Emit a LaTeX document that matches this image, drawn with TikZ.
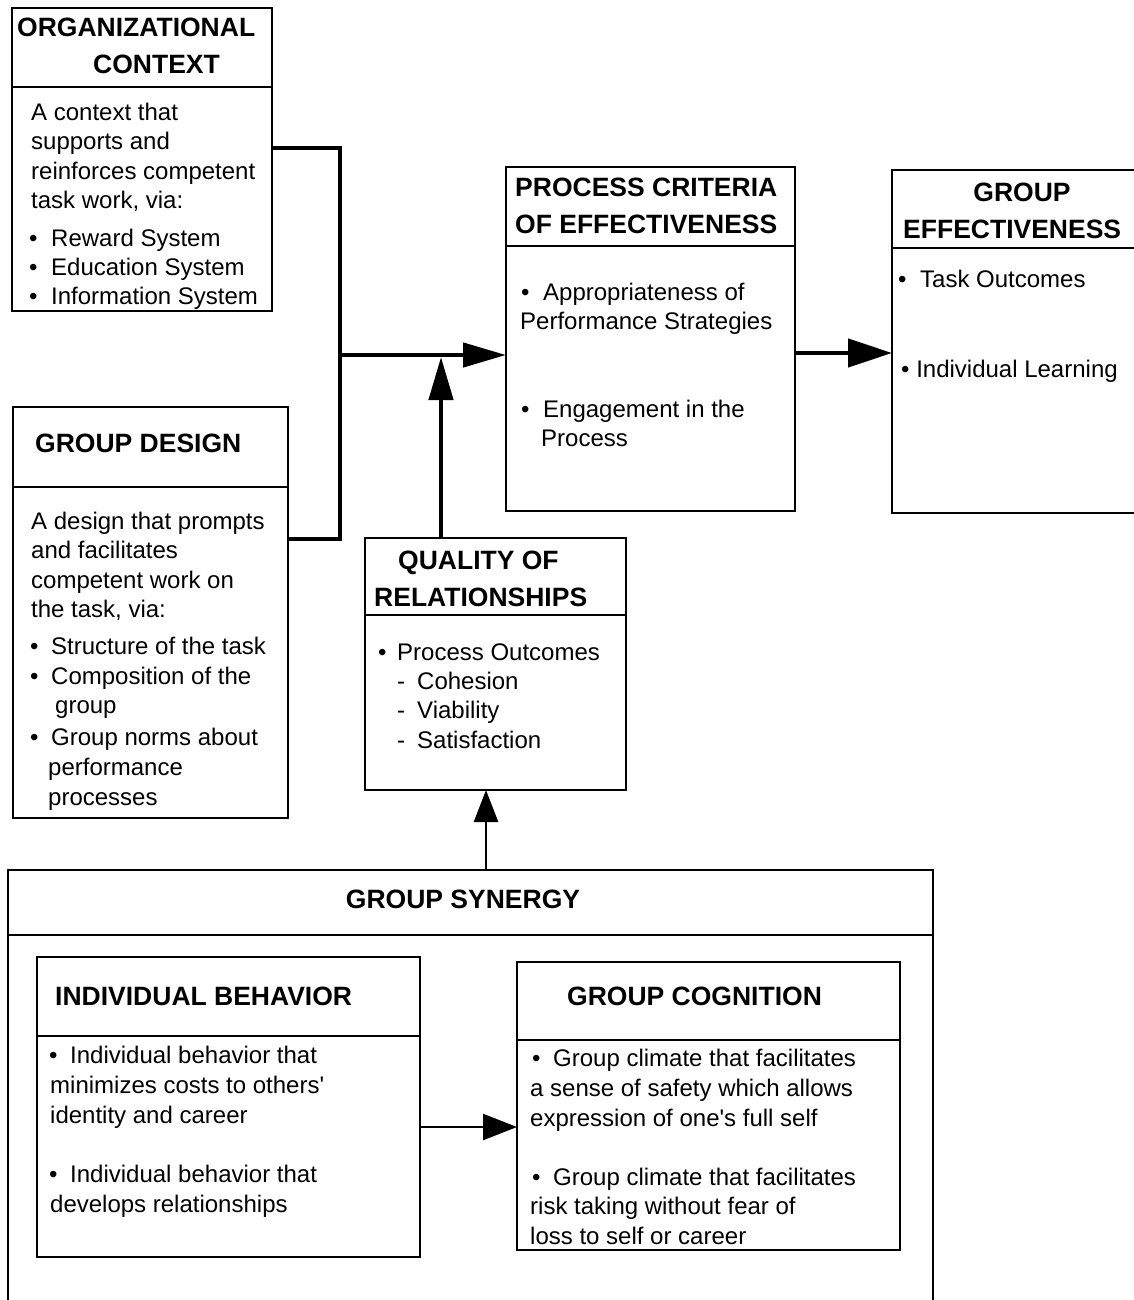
\documentclass[tikz,border=0pt]{standalone}
\usepackage{fontspec}
\setmainfont{Liberation Sans}[Ligatures=TeXOff]
\usetikzlibrary{arrows.meta}
\newcommand\bul[1]{\makebox[#1][l]{•}}
\begin{document}
\begin{tikzpicture}[x=1pt,y=-1pt,
  box/.style={draw,line width=2pt,rectangle,inner sep=0pt,outer sep=0pt,anchor=north west},
  hd/.style={font=\fontsize{26.5}{32}\selectfont\bfseries,anchor=base west,inner sep=0pt},
  tx/.style={font=\fontsize{24}{29}\selectfont,anchor=base west,inner sep=0pt},
  sep/.style={line width=2pt},
  fat/.style={line width=4.5pt},
  slim/.style={line width=2.5pt},
  bigtip/.style={-{Triangle[length=43pt,width=24pt]}},
  smalltip/.style={-{Triangle[length=34pt,width=26pt]}},
]
\useasboundingbox (0,0) rectangle (1134,1300);
\clip (0,0) rectangle (1134,1300);
\fill[white] (0,0) rectangle (1134,1300);

% ---------- boxes ----------
\node[box,minimum width=260pt,minimum height=303pt] (org) at (12,8) {};
\node[box,minimum width=275pt,minimum height=411pt] (gd) at (13,407) {};
\node[box,minimum width=289pt,minimum height=344pt] (pce) at (506,167) {};
\node[box,minimum width=270pt,minimum height=343pt] (ge) at (892,170) {};
\node[box,minimum width=261pt,minimum height=252pt] (qor) at (365,538) {};
\node[box,minimum width=925pt,minimum height=460pt] (syn) at (8,870) {};
\node[box,minimum width=383pt,minimum height=300pt] (ib) at (37,957) {};
\node[box,minimum width=383pt,minimum height=288pt] (gc) at (517,962) {};

% ---------- header separators ----------
\draw[sep] (org.west |- 0,87) -- (org.east |- 0,87);
\draw[sep] (gd.west |- 0,487) -- (gd.east |- 0,487);
\draw[sep] (pce.west |- 0,246) -- (pce.east |- 0,246);
\draw[sep] (ge.west |- 0,248) -- (ge.east |- 0,248);
\draw[sep] (qor.west |- 0,615) -- (qor.east |- 0,615);
\draw[sep] (syn.west |- 0,935) -- (syn.east |- 0,935);
\draw[sep] (ib.west |- 0,1036) -- (ib.east |- 0,1036);
\draw[sep] (gc.west |- 0,1040) -- (gc.east |- 0,1040);

% ---------- organizational context ----------
\node[hd] (orgh1) at (17,36.5) {ORGANIZATIONAL};
\node[hd] (orgh2) at (93,73.5) {CONTEXT};
\node[tx] (orgt1) at (31,121) {A context that};
\node[tx] (orgt2) at (31,150) {supports and};
\node[tx] (orgt3) at (31,179) {reinforces competent};
\node[tx] (orgt4) at (31,208) {task work, via:};
\node[tx] (orgb1) at (29,246) {\bul{22pt}Reward System};
\node[tx] (orgb2) at (29,275.5) {\bul{22pt}Education System};
\node[tx] (orgb3) at (29,304.5) {\bul{22pt}Information System};

% ---------- group design ----------
\node[hd] (gdh) at (35,452.5) {GROUP DESIGN};
\node[tx] (gdt1) at (31,529) {A design that prompts};
\node[tx] (gdt2) at (31,558) {and facilitates};
\node[tx] (gdt3) at (31,588) {competent work on};
\node[tx] (gdt4) at (31,617) {the task, via:};
\node[tx] (gdb1) at (30,654) {\bul{21pt}Structure of the task};
\node[tx] (gdb2) at (30,684) {\bul{21pt}Composition of the};
\node[tx] (gdb2b) at (55,713) {group};
\node[tx] (gdb3) at (30,745) {\bul{21pt}Group norms about};
\node[tx] (gdb3b) at (48,775) {performance};
\node[tx] (gdb3c) at (48,805) {processes};

% ---------- process criteria ----------
\node[hd] (pceh1) at (515,196.5) {PROCESS CRITERIA};
\node[hd] (pceh2) at (515,233.5) {OF EFFECTIVENESS};
\node[tx] (pcet1) at (521,300) {\bul{22pt}Appropriateness of};
\node[tx] (pcet2) at (520,329) {Performance Strategies};
\node[tx] (pcet3) at (521,417) {\bul{22pt}Engagement in the};
\node[tx] (pcet4) at (541,446) {Process};

% ---------- group effectiveness ----------
\node[hd,anchor=base] (geh1) at (1022,201.5) {GROUP};
\node[hd] (geh2) at (903,238.5) {EFFECTIVENESS};
\node[tx] (get1) at (898,287) {\bul{22pt}Task Outcomes};
\node[tx] (get2) at (901,377) {• Individual Learning};

% ---------- quality of relationships ----------
\node[hd] (qorh1) at (398,569.5) {QUALITY OF};
\node[hd] (qorh2) at (374,606.5) {RELATIONSHIPS};
\node[tx] (qort1) at (378,660) {\bul{19pt}Process Outcomes};
\node[tx] (qort2) at (397,689) {\makebox[20pt][l]{-}Cohesion};
\node[tx] (qort3) at (397,718) {\makebox[20pt][l]{-}Viability};
\node[tx] (qort4) at (397,748) {\makebox[20pt][l]{-}Satisfaction};

% ---------- group synergy ----------
\node[hd,anchor=base] (synh) at (463,908.5) {GROUP SYNERGY};

\node[hd] (ibh) at (55,1005.5) {INDIVIDUAL BEHAVIOR};
\node[tx] (ibt1) at (49,1063) {\bul{21pt}Individual behavior that};
\node[tx] (ibt2) at (50,1093) {minimizes costs to others'};
\node[tx] (ibt3) at (50,1123) {identity and career};
\node[tx] (ibt4) at (49,1182) {\bul{21pt}Individual behavior that};
\node[tx] (ibt5) at (50,1212) {develops relationships};

\node[hd] (gch) at (567,1005.5) {GROUP COGNITION};
\node[tx] (gct1) at (532,1066) {\bul{21pt}Group climate that facilitates};
\node[tx] (gct2) at (530,1096) {a sense of safety which allows};
\node[tx] (gct3) at (530,1126) {expression of one's full self};
\node[tx] (gct4) at (532,1185) {\bul{21pt}Group climate that facilitates};
\node[tx] (gct5) at (530,1214) {risk taking without fear of};
\node[tx] (gct6) at (530,1244) {loss to self or career};

% ---------- connectors ----------
\coordinate (jtop) at (340,148);
\coordinate (jbot) at (340,539);
\coordinate (jmid) at (340,355);
\coordinate (jup) at (441,357);
\draw[fat] (org.east |- jtop) -- (jtop) -- (jbot) -- (gd.east |- jbot);
\draw[fat,bigtip] (jmid) -- (pce.west |- jmid);
\draw[fat,bigtip] (qor.north -| jup) -- (jup);
\coordinate (jge) at (800,353);
\draw[fat,-{Triangle[length=44pt,width=28pt]}] (pce.east |- jge) -- (ge.west |- jge);
\coordinate (jsyn) at (486,870);
\draw[slim,-{Triangle[length=32pt,width=24pt]}] (jsyn) -- (qor.south -| jsyn);
\coordinate (jib) at (420,1127);
\draw[slim,smalltip] (ib.east |- jib) -- (gc.west |- jib);
\end{tikzpicture}
\end{document}
